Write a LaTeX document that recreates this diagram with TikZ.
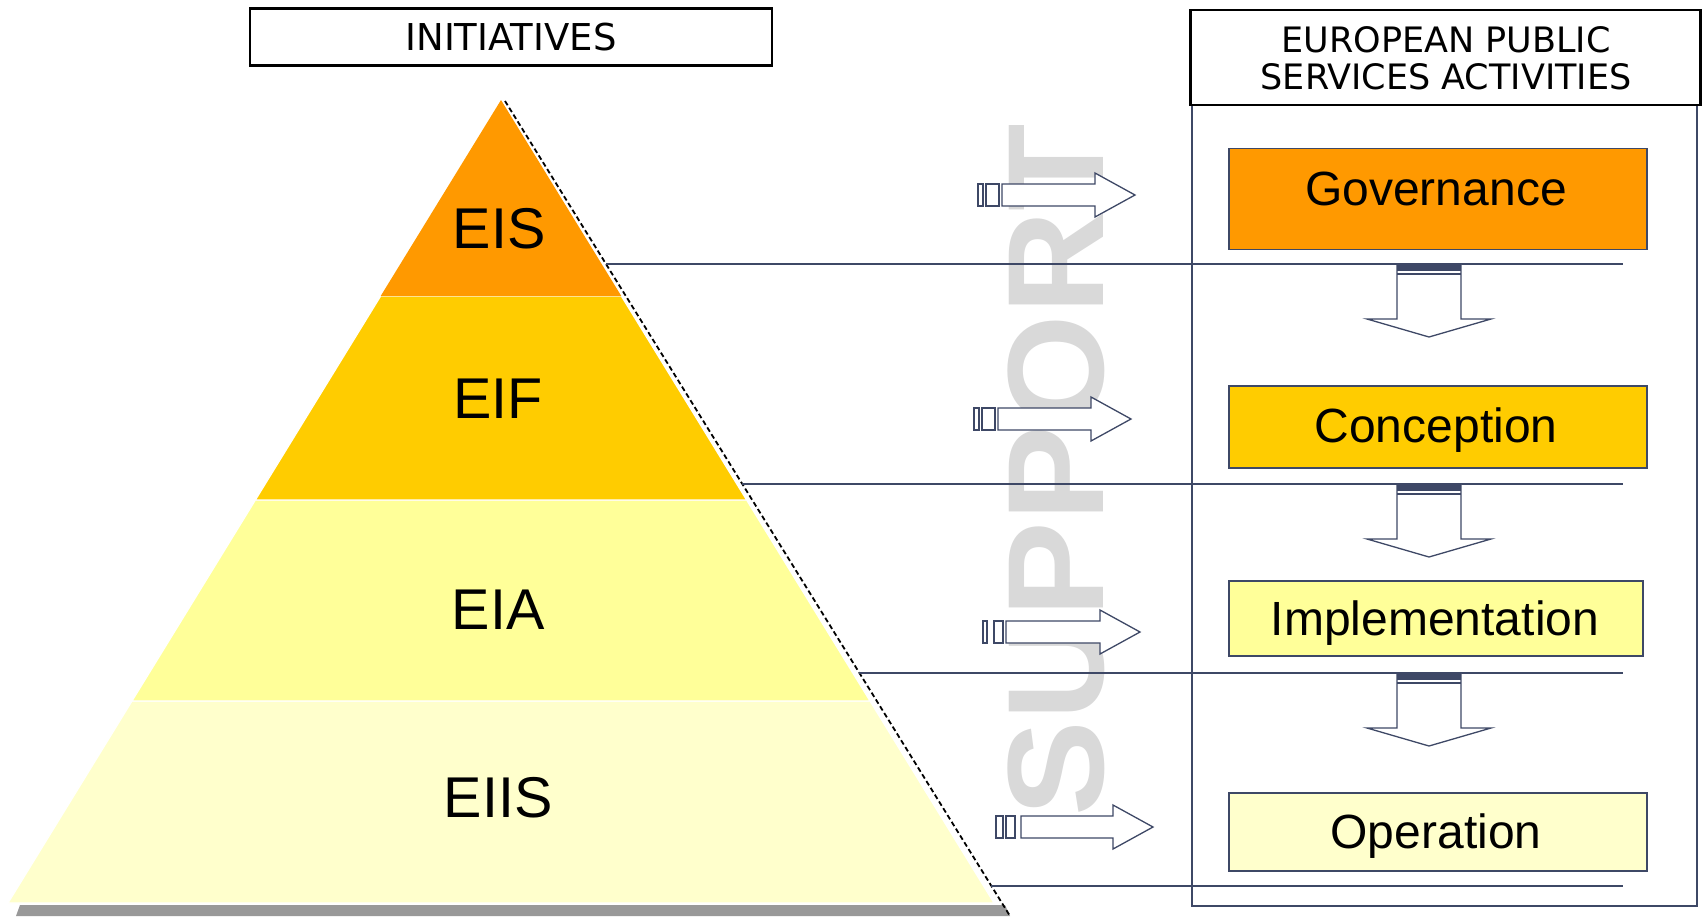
\documentclass[tikz,border=0pt]{standalone}
\usepackage{fontspec}
\setmainfont{Liberation Sans}
\newfontfamily\dvfont{DejaVu Sans}
\definecolor{cEIS}{HTML}{FF9900}
\definecolor{cEIF}{HTML}{FFCC00}
\definecolor{cEIA}{HTML}{FFFF99}
\definecolor{cEIIS}{HTML}{FFFFCC}
\definecolor{ln}{HTML}{3E4866}
\definecolor{wm}{HTML}{D9D9D9}
\definecolor{band}{HTML}{999999}
\tikzset{
  tier/.style={draw=white, line width=1.2pt},
  tierlabel/.style={anchor=base, inner sep=0pt, font=\fontsize{57.5}{57.5}\selectfont},
  actbox/.style={draw=ln, line width=1.4pt, inner sep=0pt},
  actlabel/.style={anchor=base, inner sep=0pt, font=\fontsize{48}{48}\selectfont},
  headbox/.style={draw=black, line width=2.6pt},
  headtext/.style={anchor=base, inner sep=0pt, font=\dvfont\fontsize{35}{35}\selectfont},
  blockarrow/.style={draw=ln, line width=1.3pt, fill=white, line join=miter},
  levelline/.style={draw=ln, line width=1.3pt},
}
% right block arrow: #1 r1a, #2 r1b, #3 r2a, #4 r2b, #5 shaft start, #6 shaft end, #7 tip, #8 cy
\newcommand\RArr[8]{%
  \draw[blockarrow] (#1,#8-11) rectangle (#2,#8+11);
  \draw[blockarrow] (#3,#8-11) rectangle (#4,#8+11);
  \draw[blockarrow] (#5,#8-11) -- (#6,#8-11) -- (#6,#8-22) -- (#7,#8) -- (#6,#8+22) -- (#6,#8+11) -- (#5,#8+11) -- cycle;
}
% down block arrow: #1 cx, #2 top y
\newcommand\DArr[2]{%
  \draw[blockarrow] (#1-32,#2) -- (#1-32,#2+55) -- (#1-62,#2+55) -- (#1,#2+73) -- (#1+62,#2+55) -- (#1+32,#2+55) -- (#1+32,#2) -- cycle;
  \fill[ln] (#1-32,#2) rectangle (#1+32,#2+7);
  \draw[ln, line width=1.6pt] (#1-32,#2+10) -- (#1+32,#2+10);
}
\begin{document}
\begin{tikzpicture}[x=1pt, y=-1pt]
\useasboundingbox (0,0) rectangle (1705,916);

% watermark
\node[rotate=90, xscale=1.046, text=wm, inner sep=0pt, font=\bfseries\fontsize{137}{137}\selectfont] (wmark) at (1056,470) {SUPPORT};

% pyramid
\fill[band] (20,905) -- (1005,905) -- (1010,916) -- (16,916) -- cycle;
\path[tier, fill=cEIIS] (132,701) -- (870,701) -- (994,903) -- (8,903) -- cycle;
\path[tier, fill=cEIA] (255.4,500) -- (746.6,500) -- (870,701) -- (132,701) -- cycle;
\path[tier, fill=cEIF] (380.7,296) -- (621.3,296) -- (746.6,500) -- (255.4,500) -- cycle;
\path[fill=cEIS] (501,100) -- (621.3,296) -- (380.7,296) -- cycle;
\coordinate (dashA) at (505,101);
\coordinate (dashB) at (1010,916);
\draw[black, line width=1.8pt, dash pattern=on 5pt off 3pt] (dashA) -- (dashB);

\node[tierlabel] (eis) at (499,248) {EIS};
\node[tierlabel] (eif) at (498,418) {EIF};
\node[tierlabel] (eia) at (498,629) {EIA};
\node[tierlabel] (eiis) at (498,817) {EIIS};

% headers
\node[headbox, minimum width=522pt, minimum height=57pt, inner sep=0pt] (initbox) at (511,37) {};
\node[headtext, font=\dvfont\fontsize{37}{37}\selectfont] (inittext) at (511,50) {INITIATIVES};

\draw[ln, line width=1.4pt] (1192,105) rectangle (1697,906);
\node[headbox, minimum width=510pt, minimum height=95pt, inner sep=0pt, fill=white] (epsbox) at (1445.5,57.5) {};
\node[headtext] (eps1) at (1446,52) {EUROPEAN PUBLIC};
\node[headtext] (eps2) at (1446,89) {SERVICES ACTIVITIES};

% activity boxes
\node[actbox, fill=cEIS, minimum width=418pt, minimum height=101pt] (gov) at (1438,199) {};
\node[actbox, fill=cEIF, minimum width=418pt, minimum height=82pt] (con) at (1438,427) {};
\node[actbox, fill=cEIA, minimum width=414pt, minimum height=75pt] (imp) at (1436,618.5) {};
\node[actbox, fill=cEIIS, minimum width=418pt, minimum height=78pt] (ope) at (1438,832) {};
\node[actlabel] (govt) at (1436,205) {Governance};
\node[actlabel] (cont) at (1436,442) {Conception};
\node[actlabel] (impt) at (1435,635) {Implementation};
\node[actlabel] (opet) at (1436,848) {Operation};

% level lines
\coordinate (l1a) at (606,264);  \coordinate (l1b) at (1623,264);
\coordinate (l2a) at (742,484);  \coordinate (l2b) at (1623,484);
\coordinate (l3a) at (859,673);  \coordinate (l3b) at (1623,673);
\coordinate (l4a) at (991,886);  \coordinate (l4b) at (1623,886);
\draw[levelline] (l1a) -- (l1b);
\draw[levelline] (l2a) -- (l2b);
\draw[levelline] (l3a) -- (l3b);
\draw[levelline] (l4a) -- (l4b);

% down arrows
\DArr{1429}{264}
\DArr{1429}{484}
\DArr{1429}{673}

% right arrows
\RArr{978}{983}{986}{999}{1002}{1095}{1135}{195}
\RArr{974}{979}{982}{995}{998}{1091}{1131}{419}
\RArr{983}{987}{994}{1003}{1006}{1100}{1140}{632}
\RArr{996}{1003}{1006}{1015}{1021}{1113}{1153}{827}
\end{tikzpicture}
\end{document}
